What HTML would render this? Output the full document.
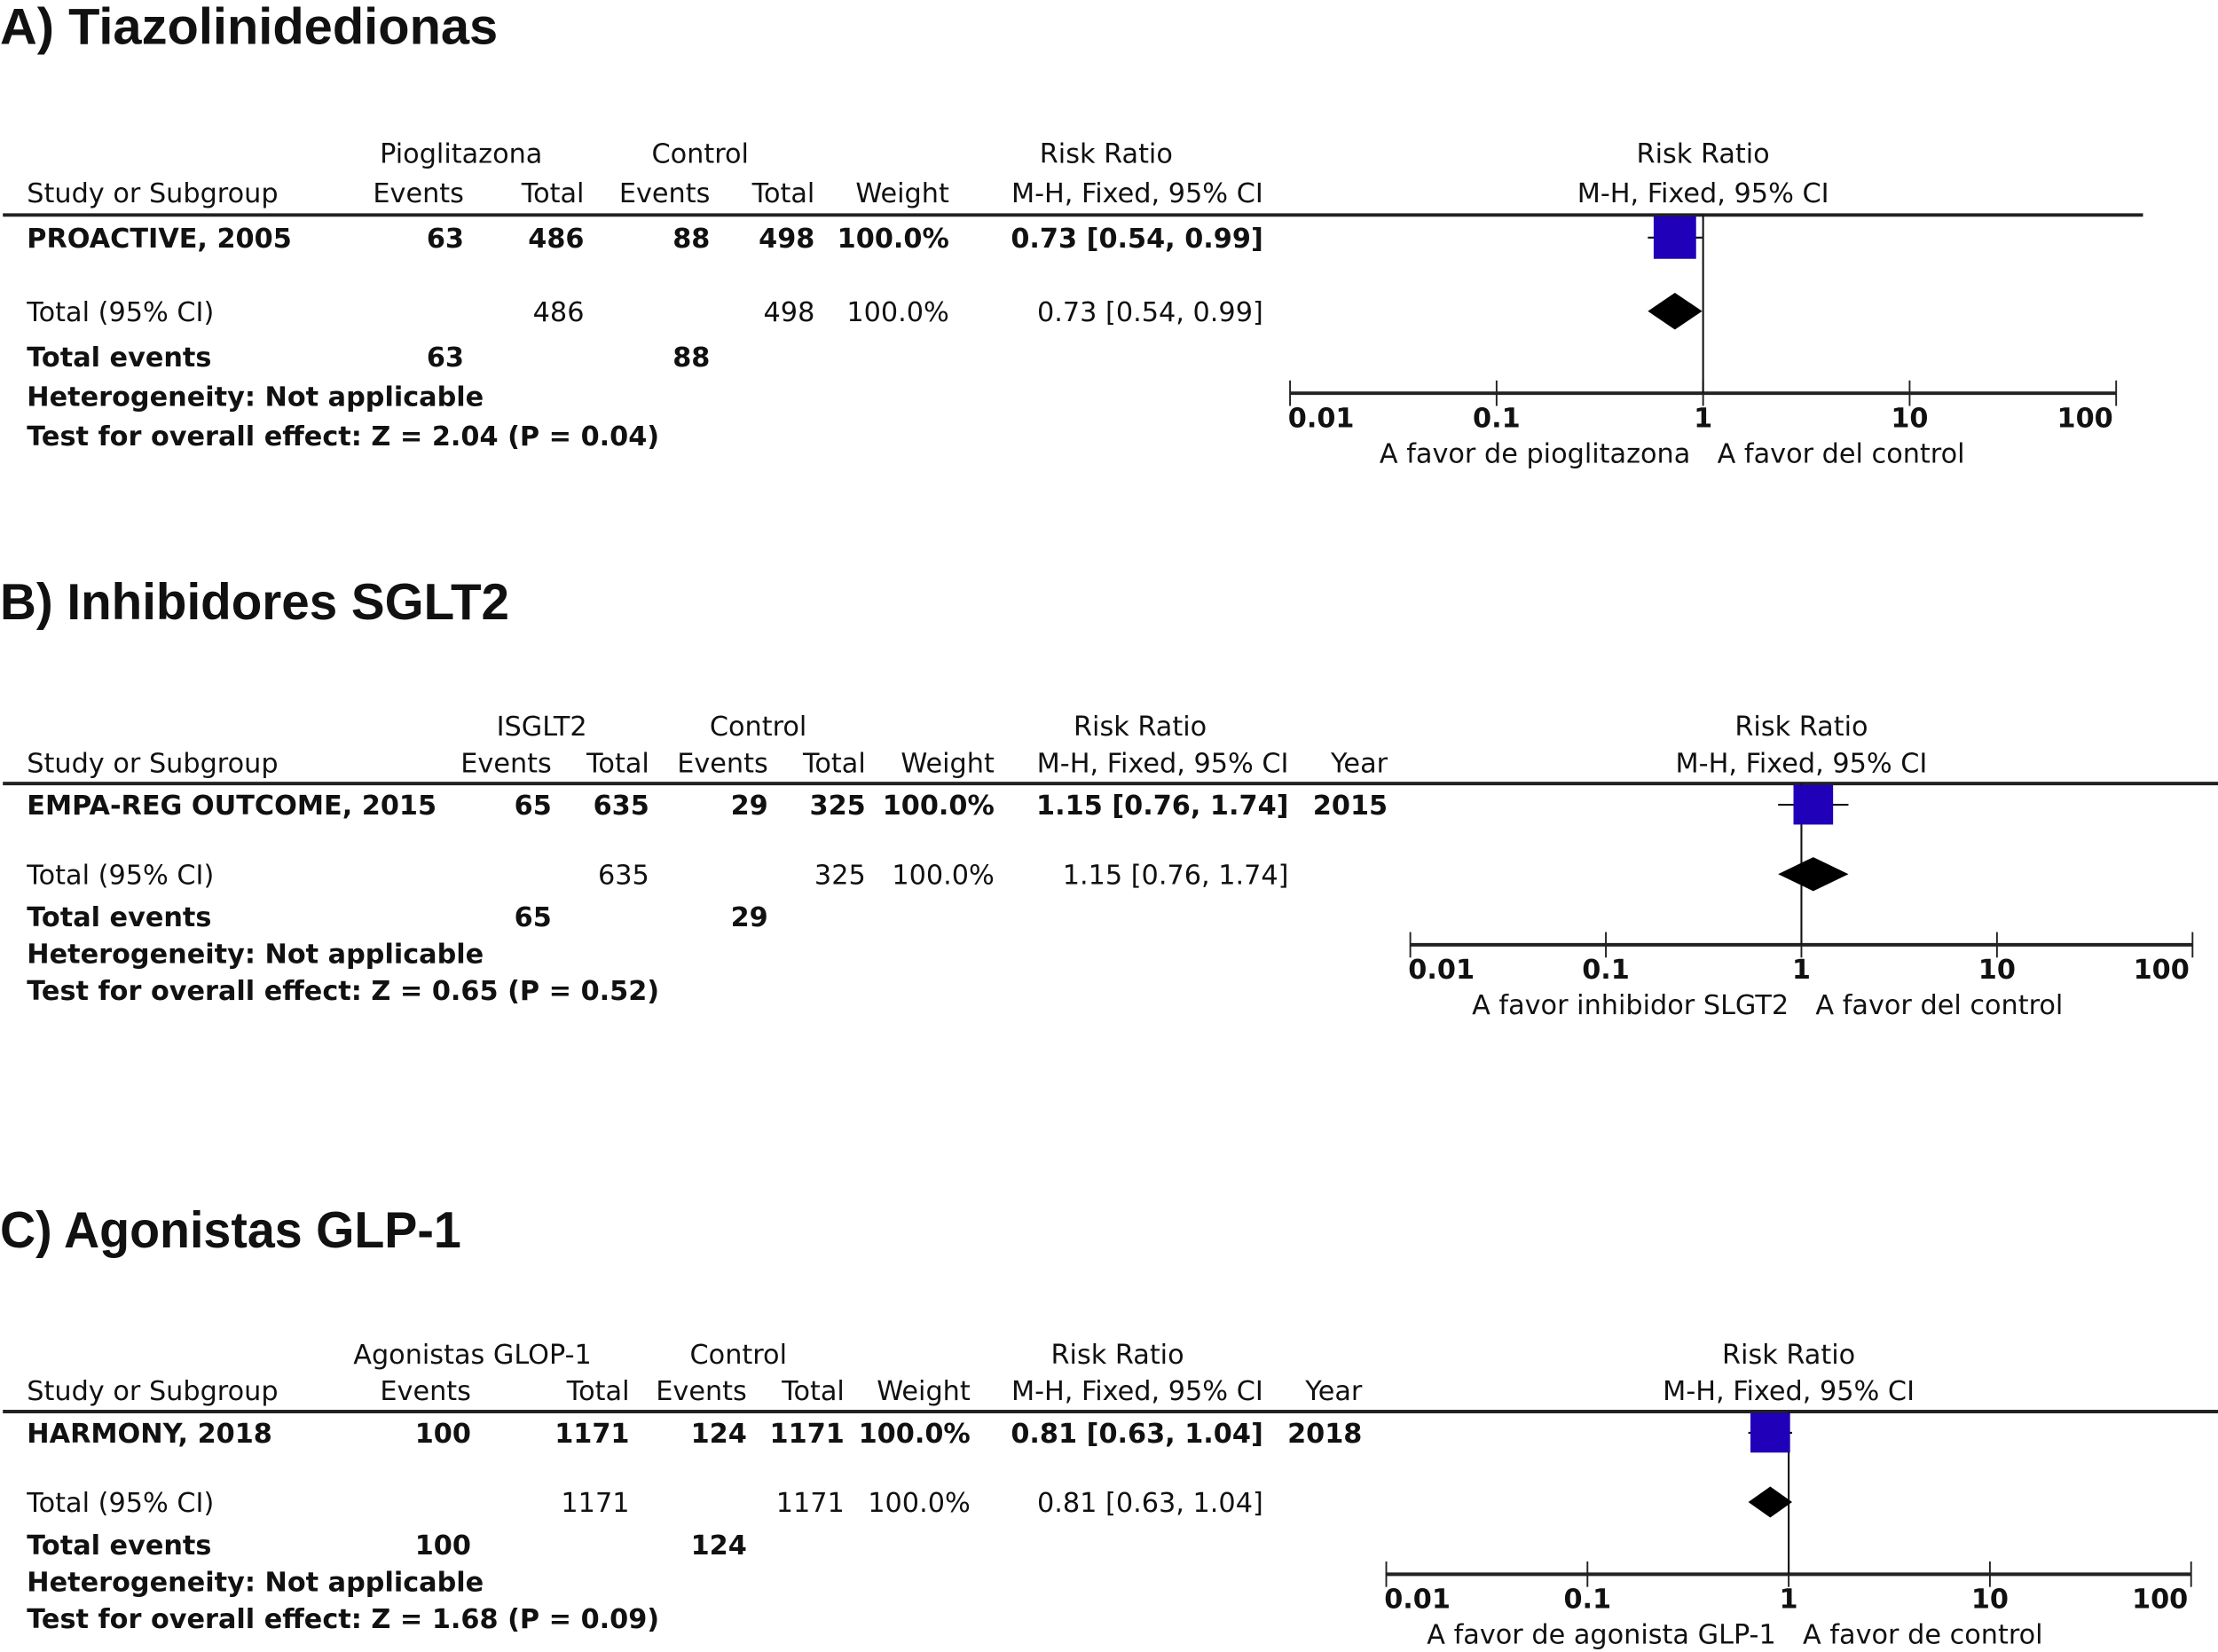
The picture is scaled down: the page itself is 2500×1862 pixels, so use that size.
<!DOCTYPE html>
<html><head><meta charset="utf-8"><style>
html,body{margin:0;padding:0;background:#fff;width:2500px;height:1862px;overflow:hidden}
svg{display:block}
text{font-family:"DejaVu Sans","Liberation Sans",sans-serif;font-size:19px;fill:#111}
.t{font-family:"Liberation Sans",sans-serif;font-weight:bold;font-size:36px}
.b{font-weight:bold}
</style></head><body>
<svg id="fig" width="2500" height="1862" viewBox="0 0 1568 1168" preserveAspectRatio="none" xmlns="http://www.w3.org/2000/svg"></svg>
<script>
// ---- data ----
const panelTitles = ["A) Tiazolinidedionas", "B) Inhibidores SGLT2", "C) Agonistas GLP-1"];
const groupLabels = ["Pioglitazona", "ISGLT2", "Agonistas GLOP-1"];
const studyNames = ["PROACTIVE, 2005", "EMPA-REG OUTCOME, 2015", "HARMONY, 2018"];
const expEvents = [63, 65, 100];
const expTotals = [486, 635, 1171];
const ctlEvents = [88, 29, 124];
const ctlTotals = [498, 325, 1171];
const weights = ["100.0%", "100.0%", "100.0%"];
const riskRatios = [0.73, 1.15, 0.81];
const ciLower = [0.54, 0.76, 0.63];
const ciUpper = [0.99, 1.74, 1.04];
const years = ["", "2015", "2018"];
const zTests = ["Z = 2.04 (P = 0.04)", "Z = 0.65 (P = 0.52)", "Z = 1.68 (P = 0.09)"];
const favorLeft = ["A favor de pioglitazona", "A favor inhibidor SLGT2", "A favor de agonista GLP-1"];
const favorRight = ["A favor del control", "A favor del control", "A favor de control"];
const tickValues = [0.01, 0.1, 1, 10, 100];
const tickLabels = ["0.01", "0.1", "1", "10", "100"];

// ---- layout (not data) ----
const rowsA = {h1:108,h2:136,line:152,r1:168,rt:220,re:252,rh:280,rz:308,sqTop:153,sq:30,dh:13};
const rowsBC = {h1:108,h2:134,line:149,r1:164,rt:213,re:243,rh:269,rz:295,sqTop:150,sq:28,dh:12};
const L = [
 {y0:0, titleW:352, R:rowsA, cols:{ge:326, ce:495, rr:782, ev:328, tot:413, cev:502, ctot:576, w:671, ci:893, yr:null}, lineEnd:1515, ax:{x0:912, x1:1496, y:278}},
 {y0:405, titleW:360, R:rowsBC, cols:{ge:383, ce:536, rr:806, ev:390, tot:459, cev:543, ctot:612, w:703, ci:911, yr:981}, lineEnd:1568, ax:{x0:997, x1:1550, y:668-405}},
 {y0:849, titleW:326, R:rowsBC, cols:{ge:334, ce:522, rr:790, ev:333, tot:445, cev:528, ctot:597, w:686, ci:893, yr:963}, lineEnd:1568, ax:{x0:980, x1:1549, y:1113-849}}
];
const NS = "http://www.w3.org/2000/svg";
const svg = document.getElementById('fig');
function mk(tag, attrs, parent){ const e=document.createElementNS(NS,tag); for(const k in attrs) e.setAttribute(k,attrs[k]); (parent||svg).appendChild(e); return e; }
function txt(g, s, x, y, anchor, cls){ const t=mk('text',{x:x,y:y+7,'text-anchor':anchor||'start'},g); if(cls) t.setAttribute('class',cls); t.textContent=s; return t; }
function fmt(v){ return v.toFixed(2); }

for(let p=0;p<3;p++){
  const c=L[p].cols, y0=L[p].y0, ax=L[p].ax, R=L[p].R;
  const g=mk('g',{transform:'translate(0,'+y0+')'});
  
  
  const tt=mk('text',{x:0,y:(p===0?31:33)},g); tt.setAttribute('class','t'); tt.textContent=panelTitles[p];
  tt.setAttribute('textLength', L[p].titleW); tt.setAttribute('lengthAdjust','spacingAndGlyphs');
  
  
  txt(g, groupLabels[p], c.ge, R.h1, 'middle');
  txt(g, "Control", c.ce, R.h1, 'middle');
  txt(g, "Risk Ratio", c.rr, R.h1, 'middle');
  const cx=(ax.x0+ax.x1)/2;
  txt(g, "Risk Ratio", cx, R.h1, 'middle');
  txt(g, "Study or Subgroup", 19, R.h2);
  txt(g, "Events", c.ev, R.h2, 'end'); txt(g, "Total", c.tot, R.h2, 'end');
  txt(g, "Events", c.cev, R.h2, 'end'); txt(g, "Total", c.ctot, R.h2, 'end');
  txt(g, "Weight", c.w, R.h2, 'end'); txt(g, "M-H, Fixed, 95% CI", c.ci, R.h2, 'end');
  if(c.yr) txt(g, "Year", c.yr, R.h2, 'end');
  txt(g, "M-H, Fixed, 95% CI", cx, R.h2, 'middle');
  const hl=mk('line',{x1:2,x2:L[p].lineEnd,y1:R.line,y2:R.line,stroke:'#222','stroke-width':2.5},g);
  
  
  const ciStr = fmt(riskRatios[p])+" ["+fmt(ciLower[p])+", "+fmt(ciUpper[p])+"]";
  const r1=R.r1, rt=R.rt, re=R.re;
  txt(g, studyNames[p], 19, r1, 'start', 'b');
  txt(g, String(expEvents[p]), c.ev, r1, 'end', 'b'); txt(g, String(expTotals[p]), c.tot, r1, 'end', 'b');
  txt(g, String(ctlEvents[p]), c.cev, r1, 'end', 'b'); txt(g, String(ctlTotals[p]), c.ctot, r1, 'end', 'b');
  txt(g, weights[p], c.w, r1, 'end', 'b'); txt(g, ciStr, c.ci, r1, 'end', 'b');
  if(c.yr) txt(g, years[p], c.yr, r1, 'end', 'b');
  txt(g, "Total (95% CI)", 19, rt);
  txt(g, String(expTotals[p]), c.tot, rt, 'end'); txt(g, String(ctlTotals[p]), c.ctot, rt, 'end');
  txt(g, weights[p], c.w, rt, 'end'); txt(g, ciStr, c.ci, rt, 'end');
  txt(g, "Total events", 19, re, 'start', 'b');
  txt(g, String(expEvents[p]), c.ev, re, 'end', 'b'); txt(g, String(ctlEvents[p]), c.cev, re, 'end', 'b');
  txt(g, "Heterogeneity: Not applicable", 19, R.rh, 'start', 'b');
  txt(g, "Test for overall effect: "+zTests[p], 19, R.rz, 'start', 'b');
  const lx=v=> ax.x0 + (Math.log10(v)-Math.log10(tickValues[0]))/(Math.log10(tickValues[tickValues.length-1])-Math.log10(tickValues[0]))*(ax.x1-ax.x0);
  const axl=mk('line',{x1:ax.x0,x2:ax.x1,y1:ax.y,y2:ax.y,stroke:'#222','stroke-width':2.5},g);
  
  
  tickValues.forEach((v,i)=>{
    const x=lx(v);
    const tk=mk('line',{x1:x,x2:x,y1:ax.y-9,y2:ax.y+9,stroke:'#222','stroke-width':1.2},g);
    
    
    const tl=txt(g, tickLabels[i], x+ (i===0?22:i===4?-22:0), ax.y+17, 'middle', 'b');
    
    
  });
  const nl=mk('line',{x1:lx(1),x2:lx(1),y1:R.line,y2:ax.y,stroke:'#111','stroke-width':1.3},g);
  
  
  txt(g, favorLeft[p], lx(1)-9, ax.y+42, 'end');
  txt(g, favorRight[p], lx(1)+10, ax.y+42, 'start');
  const s=R.sq, rcy=R.sqTop+s/2;
  const wh=mk('line',{x1:lx(ciLower[p]),x2:lx(ciUpper[p]),y1:rcy,y2:rcy,stroke:'#111','stroke-width':1.3},g);
  
  
  const sq=mk('rect',{x:lx(riskRatios[p])-s/2,y:R.sqTop,width:s,height:s,fill:'#2000b8'},g);
  
  
  const dy=rt, dh=R.dh - (p===2?1:0);
  const dm=mk('polygon',{points:[lx(ciLower[p])+','+dy, lx(riskRatios[p])+','+(dy-dh), lx(ciUpper[p])+','+dy, lx(riskRatios[p])+','+(dy+dh)].join(' '),fill:'#000'},g);
  
  
}
</script>
</body></html>
